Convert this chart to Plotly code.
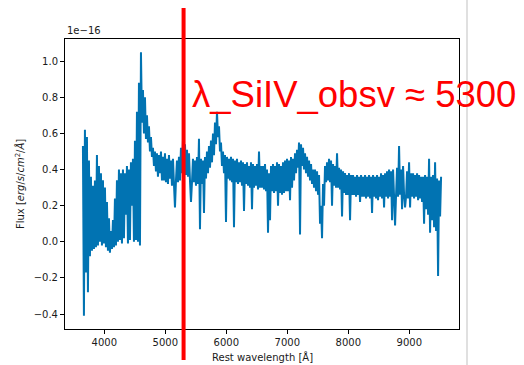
import plotly.graph_objects as go

# Rest-frame spectrum: flux in units of 1e-16 erg/s/cm^2/Å,
# sampled on a uniform wavelength grid starting at 3650 Å.
WAVE_START = 3650.0
WAVE_STEP = 16.4

flux = (
    [0.53, -0.41, 0.62, -0.17, 0.58, -0.28, 0.45, -0.08, 0.36, -0.05]
    + [0.31, -0.04, 0.34, -0.03, 0.48, -0.02, 0.42, 0.0, 0.38, -0.02]
    + [0.34, -0.01, 0.30, -0.03, 0.22, -0.05, 0.13, -0.06, 0.06, -0.04]
    + [0.12, -0.03, 0.24, -0.02, 0.34, 0.0, 0.40, 0.01, 0.38, -0.01]
    + [0.40, 0.02, 0.38, 0.15, 0.42, -0.01, 0.40, 0.01, 0.44, 0.20]
    + [0.46, 0.0, 0.56, 0.01, 0.72, 0.0, 0.88, -0.02, 1.05, 0.66]
    + [0.84, 0.60, 0.80, 0.57, 0.70, 0.55, 0.64, 0.50, 0.58, 0.47]
    + [0.52, 0.42, 0.50, 0.39, 0.49, 0.36, 0.48, 0.38, 0.50, 0.34]
    + [0.47, 0.34, 0.49, 0.33, 0.46, 0.32, 0.48, 0.35, 0.45, 0.31]
    + [0.46, 0.32, 0.19, 0.34, 0.45, 0.33, 0.47, 0.34, 0.52, 0.38]
    + [0.56, 0.40, 0.54, 0.37, 0.51, 0.36, 0.49, 0.34, 0.22, 0.33]
    + [0.46, 0.33, 0.45, 0.31, 0.47, 0.32, 0.57, 0.07, 0.46, 0.32]
    + [0.45, 0.16, 0.47, 0.35, 0.50, 0.38, 0.53, 0.41, 0.56, 0.44]
    + [0.60, 0.48, 0.66, 0.54, 0.72, 0.58, 0.64, 0.50, 0.55, 0.42]
    + [0.50, 0.38, 0.48, 0.11, 0.47, 0.35, 0.46, 0.34, 0.47, 0.33]
    + [0.46, 0.08, 0.45, 0.33, 0.46, 0.32, 0.44, 0.33, 0.45, 0.31]
    + [0.44, 0.17, 0.43, 0.32, 0.44, 0.31, 0.42, 0.30, 0.44, 0.18]
    + [0.43, 0.30, 0.42, 0.31, 0.43, 0.29, 0.50, 0.30, 0.42, 0.30]
    + [0.42, 0.29, 0.43, 0.28, 0.40, 0.05, 0.38, 0.12, 0.42, 0.28]
    + [0.43, 0.27, 0.42, 0.28, 0.44, 0.20, 0.43, 0.27, 0.42, 0.26]
    + [0.44, 0.27, 0.45, 0.28, 0.46, 0.28, 0.45, 0.23, 0.47, 0.30]
    + [0.46, 0.34, 0.49, 0.38, 0.51, 0.41, 0.55, 0.04, 0.54, 0.42]
    + [0.52, 0.40, 0.49, 0.38, 0.47, 0.36, 0.45, 0.34, 0.43, 0.32]
    + [0.40, 0.30, 0.40, 0.28, 0.39, 0.26, 0.37, 0.10, 0.20, 0.02]
    + [0.32, 0.20, 0.42, 0.33, 0.44, 0.34, 0.46, 0.33, 0.45, 0.20]
    + [0.43, 0.31, 0.42, 0.30, 0.49, 0.30, 0.41, 0.29, 0.40, 0.14]
    + [0.39, 0.27, 0.38, 0.26, 0.37, 0.26, 0.38, 0.12, 0.37, 0.26]
    + [0.37, 0.26, 0.36, 0.25, 0.37, 0.26, 0.36, 0.22, 0.37, 0.25]
    + [0.36, 0.25, 0.37, 0.24, 0.36, 0.25, 0.37, 0.24, 0.36, 0.16]
    + [0.37, 0.25, 0.36, 0.24, 0.37, 0.23, 0.36, 0.25, 0.38, 0.24]
    + [0.37, 0.19, 0.38, 0.25, 0.39, 0.24, 0.40, 0.25, 0.39, 0.12]
    + [0.40, 0.25, 0.09, 0.26, 0.41, 0.25, 0.53, 0.26, 0.40, 0.18]
    + [0.42, 0.26, 0.19, 0.25, 0.39, 0.24, 0.44, 0.19, 0.38, 0.25]
    + [0.38, 0.24, 0.37, 0.25, 0.38, 0.23, 0.37, 0.24, 0.36, 0.22]
    + [0.36, 0.10, 0.37, 0.18, 0.36, 0.15, 0.46, 0.05, 0.36, 0.12]
    + [0.37, 0.08, 0.44, 0.06, 0.35, -0.19, 0.34, 0.14, 0.36]
)
wave = [WAVE_START + WAVE_STEP * i for i in range(len(flux))]

x_ticks = [4000, 5000, 6000, 7000, 8000, 9000]
y_ticks = [-0.4, -0.2, 0.0, 0.2, 0.4, 0.6, 0.8, 1.0]

# Observed Si IV wavelength marker
siiv_obs = 5300
siiv_label = "λ_SiIV_obsv ≈ 5300"

TICK_FONT = dict(family="DejaVu Sans", size=10, color="#1a1a1a")

fig = go.Figure()
fig.add_trace(
    go.Scatter(
        x=wave,
        y=flux,
        mode="lines",
        line=dict(color="#0173b2", width=2.0, simplify=False),
        showlegend=False,
        hoverinfo="skip",
    )
)

axis_common = dict(
    showline=True,
    linecolor="black",
    linewidth=1,
    mirror=True,
    ticks="outside",
    ticklen=4,
    tickwidth=1,
    tickcolor="black",
    showgrid=False,
    zeroline=False,
    tickfont=TICK_FONT,
)

fig.update_layout(
    width=524,
    height=365,
    margin=dict(l=65, r=65, t=39, b=36),
    paper_bgcolor="white",
    plot_bgcolor="white",
    xaxis=dict(range=[3356, 9815], tickvals=x_ticks, **axis_common),
    yaxis=dict(range=[-0.483, 1.123], tickvals=y_ticks, tickformat=".1f", **axis_common),
    font=dict(family="DejaVu Sans", size=10, color="#1a1a1a"),
)

fig.add_annotation(
    text="Rest wavelength [Å]",
    xref="paper", yref="paper", x=0.5, y=-0.098,
    xanchor="center", yanchor="middle", showarrow=False,
    font=dict(family="DejaVu Sans", size=10, color="#1a1a1a"),
)
fig.add_annotation(
    text="Flux [<i>erg</i>/<i>s</i>/<i>cm</i><sup>2</sup>/<i>Å</i>]",
    xref="paper", yref="paper", x=-0.114, y=0.5,
    xanchor="center", yanchor="middle", textangle=-90, showarrow=False,
    font=dict(family="DejaVu Sans", size=10, color="#1a1a1a"),
)
fig.add_annotation(
    text="1e−16",
    xref="paper", yref="paper", x=0.0, y=1.0, yshift=1,
    xanchor="left", yanchor="bottom", showarrow=False,
    font=dict(family="DejaVu Sans", size=10, color="#1a1a1a"),
)

# Si IV marker line and label
fig.add_shape(
    type="line", xref="x", yref="paper",
    x0=siiv_obs, x1=siiv_obs, y0=-0.107, y1=1.107,
    line=dict(color="#ff0000", width=4), layer="above",
)
fig.add_annotation(
    text=siiv_label,
    xref="paper", yref="paper", x=0.317, y=0.807,
    xanchor="left", yanchor="middle", showarrow=False,
    font=dict(family="Liberation Sans", size=36.5, color="#ff0000"),
)

# thin page divider on the right
fig.add_shape(
    type="line", xref="paper", yref="paper",
    x0=1.0203, x1=1.0203, y0=-0.13, y1=1.14,
    line=dict(color="#d6d6d6", width=1.5),
)

fig.write_html("out.html")
